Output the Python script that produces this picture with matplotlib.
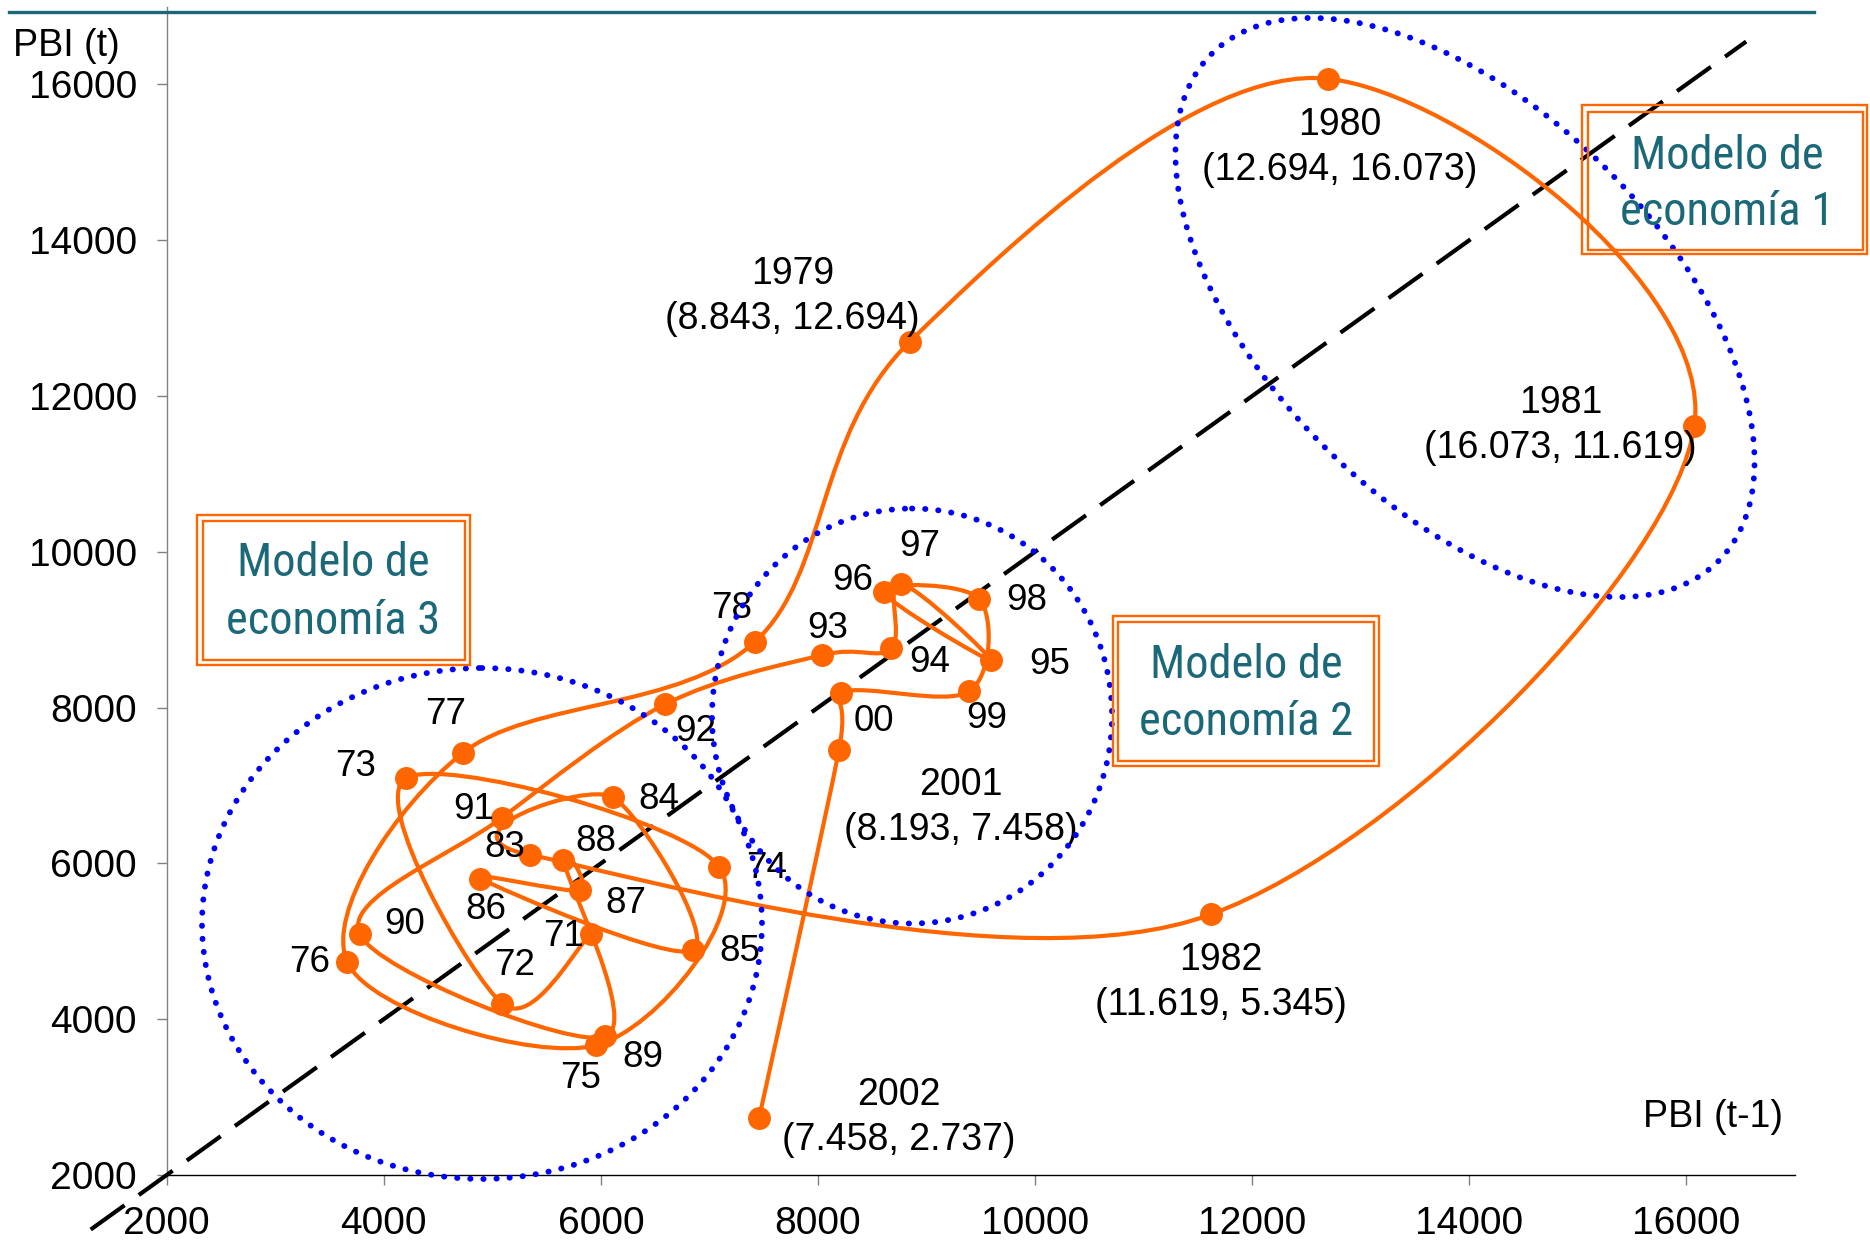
import numpy as np
import matplotlib
matplotlib.use("Agg")
import matplotlib.pyplot as plt
from matplotlib import font_manager as fm
from matplotlib.path import Path
from matplotlib.patches import PathPatch, Ellipse, Rectangle
from matplotlib.transforms import Affine2D

# ---- data: PBI per year (the chart plots PBI(t-1) against PBI(t)) ----
years = list(range(1970, 2003))
pbi = [5907, 5090, 4200, 7090, 5955, 3665, 4728, 7418, 8843, 12694,
       16073, 11619, 5345, 6110, 6850, 4888, 5806, 5654, 6040, 3778,
       5090, 6588, 8040, 8675, 8760, 9593, 8606, 9487, 9394, 8210,
       8193, 7458, 2737]

# short tags written beside each point (years 1971..2002); None -> full label
point_tags = ["71", "72", "73", "74", "75", "76", "77", "78",
              None, None, None, None,
              "83", "84", "85", "86", "87", "88", "89", "90", "91", "92",
              "93", "94", "97", "95", "96", "98", "99", "00",
              None, None]

# label offsets in pixels (dx right, dy down) from each point
tag_offsets = [(-27, 2), (12, -38), (-50, -12), (47, 2), (-15, 33), (-38, 0),
               (-17, -38), (-23, -33), (-117, -45), (12, 69), (-134, 0),
               (10, 68), (-25, -7), (46, 2), (47, 1), (6, 31), (46, 13),
               (33, -19), (38, 21), (45, -10), (-28, -8), (31, 27), (5, -27),
               (38, 14), (19, -37), (59, 4), (-31, -11), (47, 1), (17, 27),
               (33, 29), (122, 58), (140, 0)]

ticks = [2000, 4000, 6000, 8000, 10000, 12000, 14000, 16000]
model_names = ["Modelo de\neconomía 1", "Modelo de\neconomía 2", "Modelo de\neconomía 3"]

# ---- style ----
W, H, DPI = 1870, 1249, 100
ORANGE = "#FF6600"
TEAL = "#1A6878"
BLUE = "#0000FF"
FONT = ["Liberation Sans", "DejaVu Sans"]
plt.rcParams["font.family"] = FONT


def narrow_face():
    """Pick a narrow/condensed regular face if one is installed."""
    entries = fm.fontManager.ttflist

    def regular(f):
        return f.style == "normal" and f.weight in (400, "normal", "regular", "book")

    for name in ("Liberation Sans Narrow", "Arial Narrow", "Roboto Condensed",
                 "Noto Sans Condensed", "Open Sans Condensed"):
        for f in entries:
            if f.name == name and regular(f):
                return f.fname
    for fam in ("Roboto", "Noto Sans", "Open Sans", "Liberation Sans", "DejaVu Sans"):
        for f in entries:
            if f.name == fam and regular(f) and str(f.stretch) == "condensed":
                return f.fname
    for f in entries:
        if regular(f) and ("Narrow" in f.name or "Condensed" in f.name):
            return f.fname
    return None


fig = plt.figure(figsize=(W / DPI, H / DPI), dpi=DPI)
ax = fig.add_axes([166.7 / W, 1 - 1175 / H, (1795 - 166.7) / W, (1175 - 6.5) / H])
ax.set_xlim(2000, 17000)
ax.set_ylim(2000, 17000)
ax.set_xticks(ticks)
ax.set_yticks(ticks)
ax.tick_params(axis="both", direction="out", length=7.5, width=1.0,
               colors="#808080", labelcolor="black", labelsize=28)
ax.tick_params(axis="y", pad=14)
ax.tick_params(axis="x", pad=15)
for s in ("top", "right"):
    ax.spines[s].set_visible(False)
ax.spines["left"].set_color("#808080")
ax.spines["left"].set_linewidth(1.0)
ax.spines["bottom"].set_color("black")
ax.spines["bottom"].set_linewidth(1.0)

# pixel coordinates with origin at top-left of the canvas
px = Affine2D().scale(1, -1).translate(0, H).scale(1 / DPI) + fig.dpi_scale_trans

# lagged pairs
xs = np.array(pbi[:-1], dtype=float)
ys = np.array(pbi[1:], dtype=float)
pt_years = years[1:]

# 45-degree reference line
diag = [1300, 16550]
ax.plot(diag, diag, color="black", lw=3.0, dashes=(10, 4.2), clip_on=False, zorder=3)


def smooth_path(x, y):
    P = np.column_stack([x, y])
    n = len(P)
    verts = [P[0]]
    codes = [Path.MOVETO]
    for i in range(n - 1):
        p0 = P[i - 1] if i > 0 else P[i]
        p1, p2 = P[i], P[i + 1]
        p3 = P[i + 2] if i + 2 < n else P[i + 1]
        verts += [p1 + (p2 - p0) / 6.0, p2 - (p3 - p1) / 6.0, p2]
        codes += [Path.CURVE4] * 3
    return Path(verts, codes)


ax.add_patch(PathPatch(smooth_path(xs, ys), fill=False, edgecolor=ORANGE,
                       lw=3.0, joinstyle="round", capstyle="round", zorder=4))
ax.plot(xs, ys, "o", ms=15.5, color=ORANGE, mec=ORANGE, zorder=5)

# labels beside points
for yr, x, y, tag, (dx, dy) in zip(pt_years, xs, ys, point_tags, tag_offsets):
    text = tag if tag is not None else f"{yr}\n({x / 1000:.3f}, {y / 1000:.3f})"
    size = 26.5 if tag is not None else 27
    ax.annotate(text, (x, y), xytext=(dx, -dy), textcoords="offset pixels",
                ha="center", va="center", fontsize=size, linespacing=1.32,
                color="black", zorder=6, annotation_clip=False)

# dotted regions
regions = [((1465, 307.5), 717, 396, 45), ((912, 716), 400, 415, 0),
           ((482, 923.5), 560, 511, 0)]
for (c, w, h, ang) in regions:
    e = Ellipse(c, w, h, angle=ang, transform=px, fill=False, edgecolor=BLUE,
                lw=4.2, linestyle=(0, (0.05, 2.2)), zorder=7)
    e.set_capstyle("round")
    fig.add_artist(e)

# caption font: narrow face sized so the longer line spans ~214 px
face = narrow_face()
cap_prop = fm.FontProperties(fname=face) if face else fm.FontProperties(family=FONT)
renderer = fig.canvas.get_renderer()
probe = fig.text(0, 0, "economía 3", fontproperties=cap_prop, fontsize=35)
probe_w = probe.get_window_extent(renderer).width
probe.remove()
cap_size = min(37.0, 35 * 214.0 / probe_w)

# framed model captions: outer box, inner box, centre x, line centres y
boxes = [((1582, 105, 285, 149), (1588, 112, 275, 138), 1727, (156, 212)),
         ((1112.7, 616, 266.6, 149.7), (1118.3, 621.7, 255.7, 139), 1246, (665, 722)),
         ((197, 515, 273, 150), (202.5, 521, 262.5, 138.5), 333, (563, 621))]
for name, (outer, inner, cx, line_ys) in zip(model_names, boxes):
    for (bx, by, bw, bh) in (outer, inner):
        fig.add_artist(Rectangle((bx, by), bw, bh, transform=px, fill=False,
                                 edgecolor=ORANGE, lw=1.7, zorder=8))
    for line, ly in zip(name.split("\n"), line_ys):
        fig.text(cx / W, 1 - ly / H, line, ha="center", va="center",
                 fontproperties=cap_prop, fontsize=cap_size, color=TEAL, zorder=9)

# axis captions and top rule
fig.text(13 / W, 1 - 46 / H, "PBI (t)", ha="left", va="center", fontsize=27)
fig.text(1783 / W, 1 - 1117 / H, "PBI (t-1)", ha="right", va="center", fontsize=27)
fig.add_artist(plt.Line2D([9, 1814], [12, 12], transform=px, color=TEAL, lw=2.4))

fig.savefig("out.png", dpi=DPI)
